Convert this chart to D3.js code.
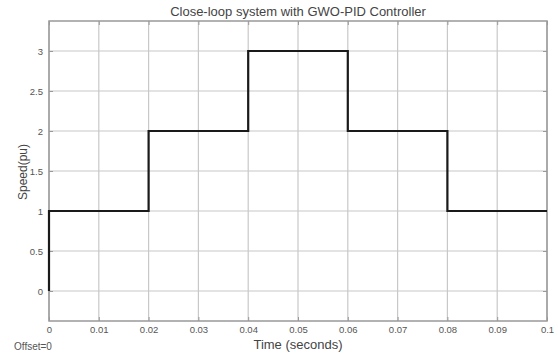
<!DOCTYPE html>
<html><head><meta charset="utf-8">
<script src="https://cdn.jsdelivr.net/npm/d3@7"></script>
<style>body{margin:0;background:#fff}svg{display:block}</style>
</head><body>
<svg id="c" width="558" height="358"></svg>
<script>
const times = [0, 0, 0.02, 0.04, 0.06, 0.08, 0.1];
const speed = [0, 1, 2, 3, 2, 1, 1];
const xTicks = [0, 0.01, 0.02, 0.03, 0.04, 0.05, 0.06, 0.07, 0.08, 0.09, 0.1];
const xTickLabels = ["0","0.01","0.02","0.03","0.04","0.05","0.06","0.07","0.08","0.09","0.1"];
const yTicks = [0, 0.5, 1, 1.5, 2, 2.5, 3];
const yTickLabels = ["0","0.5","1","1.5","2","2.5","3"];
const titleText = "Close-loop system with GWO-PID Controller";
const xLabel = "Time (seconds)";
const yLabel = "Speed(pu)";
const offsetText = "Offset=0";

const svg = d3.select("#c");
const L = 49, R = 547, T = 21, B = 321;
const x = d3.scaleLinear().domain([0, 0.1]).range([L, R]);
const y = d3.scaleLinear().domain([-0.375, 3.375]).range([B, T]);
const font = "'Liberation Sans', Arial, sans-serif";
const txt = "#555";

// grid
const g = svg.append("g");
g.selectAll(".vx").data(xTicks).join("line")
  .attr("x1", d => x(d)).attr("x2", d => x(d)).attr("y1", T).attr("y2", B)
  .attr("stroke", "#c8c8c8").attr("stroke-width", 1.2);
g.selectAll(".hy").data(yTicks).join("line")
  .attr("x1", L).attr("x2", R).attr("y1", d => y(d)).attr("y2", d => y(d))
  .attr("stroke", "#c8c8c8").attr("stroke-width", 1.2);

// axes
const xAxis = d3.axisBottom(x).tickValues(xTicks).tickFormat((d,i) => xTickLabels[i]).tickSizeInner(-4).tickSizeOuter(0).tickPadding(5);
const yAxis = d3.axisLeft(y).tickValues(yTicks).tickFormat((d,i) => yTickLabels[i]).tickSizeInner(-4).tickSizeOuter(0).tickPadding(6);
const yAxisR = d3.axisRight(y).tickValues(yTicks).tickFormat("").tickSizeInner(-4).tickSizeOuter(0);
const xAxisT = d3.axisTop(x).tickValues(xTicks).tickFormat("").tickSizeInner(-4).tickSizeOuter(0);
[[xAxis, `translate(0,${B})`], [yAxis, `translate(${L},0)`], [yAxisR, `translate(${R},0)`], [xAxisT, `translate(0,${T})`]].forEach(([ax, tr]) => {
  const a = svg.append("g").attr("transform", tr).call(ax);
  a.select(".domain").remove();
  a.selectAll("line").attr("stroke", "#999");
  a.selectAll("text").attr("fill", txt).attr("font-family", font).attr("font-size", 9.5);
});

// box
svg.append("rect").attr("x", L).attr("y", T).attr("width", R - L).attr("height", B - T)
  .attr("fill", "none").attr("stroke", "#999").attr("stroke-width", 1.5);

// line
const pts = times.map((t, i) => [t, speed[i]]);
svg.append("path").datum(pts)
  .attr("d", d3.line().x(d => x(d[0])).y(d => y(d[1])).curve(d3.curveStepAfter))
  .attr("fill", "none").attr("stroke", "#1a1a1a").attr("stroke-width", 2.2);

// texts
svg.append("text").attr("x", 298).attr("y", 16).attr("text-anchor", "middle")
  .attr("font-family", font).attr("font-size", 13).attr("fill", "#444").text(titleText);
svg.append("text").attr("x", 298).attr("y", 349).attr("text-anchor", "middle")
  .attr("font-family", font).attr("font-size", 13).attr("fill", "#444").text(xLabel);
svg.append("text").attr("transform", `translate(27,172) rotate(-90)`).attr("text-anchor", "middle")
  .attr("font-family", font).attr("font-size", 12).attr("fill", "#444").text(yLabel);
svg.append("text").attr("x", 14).attr("y", 350)
  .attr("font-family", font).attr("font-size", 10).attr("fill", txt).text(offsetText);
</script>
</body></html>
